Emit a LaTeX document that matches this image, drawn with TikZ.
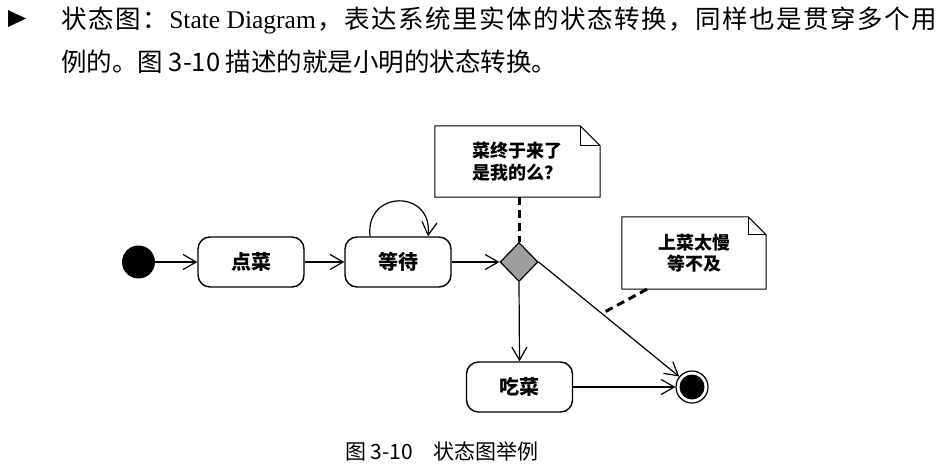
\documentclass[tikz,border=0pt]{standalone}
\usepackage{fontspec}
\setmainfont{Liberation Serif}
\newfontfamily\cjk{Noto Sans CJK SC}
\usetikzlibrary{arrows.meta,shapes.geometric}

% put stretchable glue after each character, up to \relax
\def\spreadchars#1{\ifx\relax#1\else#1\hfil\expandafter\spreadchars\fi}

\begin{document}
\begin{tikzpicture}[x=1pt,y=-1pt,
  statebox/.style={draw, line width=1.4pt, rounded corners=12pt,
    minimum width=106pt, minimum height=50pt, inner sep=0pt,
    font=\cjk\bfseries\fontsize{20}{20}\selectfont},
  flow/.style={line width=1.2pt,
    -{Straight Barb[length=13pt,width=15pt,line width=1.2pt]}},
  anchorline/.style={line width=3pt, dash pattern=on 8pt off 5pt},
  notebox/.style={inner sep=0pt, align=center,
    font=\cjk\bfseries\fontsize{18}{21.5}\selectfont},
  notefold/.style={line width=1pt},
  bodytext/.style={anchor=base west, inner sep=0pt,
    font=\cjk\fontsize{25.5}{25.5}\selectfont},
]
\useasboundingbox (0,0) rectangle (940,471);

% bullet and introductory text
\fill (8,10) -- (26,18.5) -- (8,27) -- cycle;
\node[bodytext] (line1) at (61,28)
  {\hbox to 876pt{\spreadchars 状态图：\relax{\rmfamily State Diagram}\hfil
   \spreadchars ，表达系统里实体的状态转换，同样也是贯穿多个\relax 用}};
\node[bodytext] (line2) at (61,71)
  {例的。图 3-10 描述的就是小明的状态转换。};

% states
\node[circle, fill=black, minimum size=33pt, inner sep=0pt] (start) at (138.5,262) {};
\node[statebox] (order) at (251,262) {点菜};
\node[statebox] (wait) at (398,262) {等待};
\node[diamond, draw, fill=black!38, line width=1.2pt, minimum width=38pt,
      minimum height=39pt, inner sep=0pt] (choice) at (519,262) {};
\node[statebox] (eat) at (519.5,387) {吃菜};
\node[circle, draw, line width=1.2pt, minimum size=32pt, inner sep=0pt] (final) at (692,387) {};
\node[circle, fill=black, minimum size=25pt, inner sep=0pt] (finalcore) at (final.center) {};

% notes
\node[notebox, minimum width=165pt, minimum height=71pt] (note1) at (517.5,161.5)
  {菜终于来了\\是我的么？};
\draw[notefold] (note1.north west) -- ([xshift=-20pt]note1.north east)
  -- ([yshift=-20pt]note1.north east) -- (note1.south east)
  -- (note1.south west) -- cycle;
\draw[notefold] ([xshift=-20pt]note1.north east) -- ([xshift=-20pt,yshift=-20pt]note1.north east)
  -- ([yshift=-20pt]note1.north east);

\node[notebox, minimum width=144pt, minimum height=72pt] (note2) at (694,253)
  {上菜太慢\\等不及};
\draw[notefold] (note2.north west) -- ([xshift=-18pt]note2.north east)
  -- ([yshift=-18pt]note2.north east) -- (note2.south east)
  -- (note2.south west) -- cycle;
\draw[notefold] ([xshift=-18pt]note2.north east) -- ([xshift=-18pt,yshift=-18pt]note2.north east)
  -- ([yshift=-18pt]note2.north east);

% transitions
\draw[flow] (start) -- (order);
\draw[flow] (order) -- (wait);
\draw[flow] ([xshift=-28pt]wait.north) .. controls +(-5,-47) and +(5,-47) .. ([xshift=30pt]wait.north);
\draw[flow] (wait) -- (choice.west);
\draw[flow] (choice.south) -- (eat.north);
\draw[flow] (choice.east) -- (final) coordinate[pos=0.45] (onedge);
\draw[flow] (eat) -- (final);

% note anchors
\draw[anchorline] (choice.north |- note1.south) -- (choice.north);
\draw[anchorline] ([xshift=-47pt]note2.south) -- (onedge);

% caption
\node[anchor=west, inner sep=0pt, font=\cjk\fontsize{21}{21}\selectfont] (caption) at (345,451)
  {图 3-10\hspace{20pt}状态图举例};
\end{tikzpicture}
\end{document}
